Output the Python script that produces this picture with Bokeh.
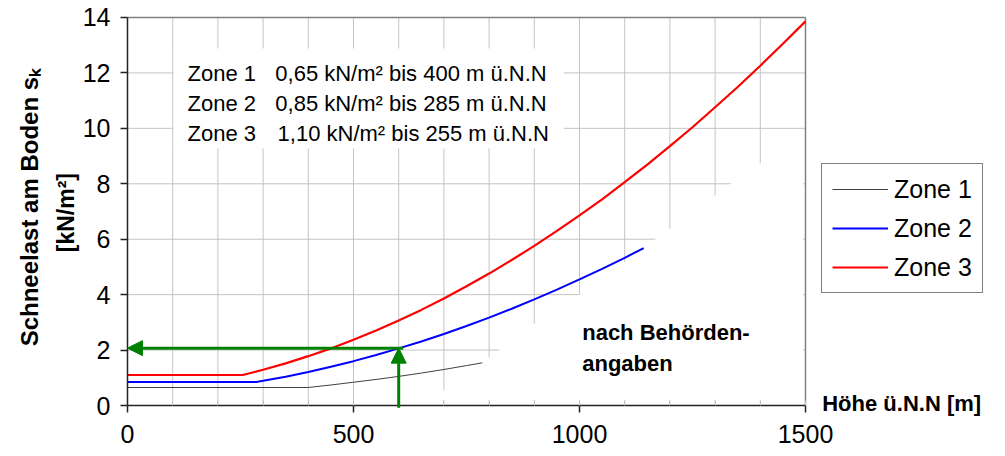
import math
from bokeh.plotting import figure
from bokeh.models import (Range1d, FixedTicker, Label, Legend, LegendItem,
                          Arrow, NormalHead)
from bokeh.embed import file_html
from bokeh.resources import INLINE

# ---- data ----
zone1_x = [0, 400, 450, 500, 550, 600, 650, 700, 750, 785]
zone1_y = [0.65, 0.65, 0.74, 0.84, 0.94, 1.05, 1.17, 1.30, 1.44, 1.54]

zone2_x = [0, 285, 300, 350, 400, 450, 500, 550, 600, 650, 700, 750, 800,
           850, 900, 950, 1000, 1050, 1100, 1142]
zone2_y = [0.85, 0.85, 0.89, 1.04, 1.21, 1.40, 1.60, 1.82, 2.06, 2.31, 2.58,
           2.87, 3.17, 3.49, 3.83, 4.18, 4.55, 4.93, 5.33, 5.68]

zone3_x = [0, 255, 300, 350, 400, 450, 500, 550, 600, 650, 700, 750, 800,
           850, 900, 950, 1000, 1050, 1100, 1150, 1200, 1250, 1300, 1350,
           1400, 1450, 1500]
zone3_y = [1.10, 1.10, 1.29, 1.52, 1.78, 2.06, 2.37, 2.71, 3.07, 3.45, 3.86,
           4.30, 4.76, 5.25, 5.76, 6.30, 6.86, 7.44, 8.06, 8.69, 9.36, 10.04,
           10.76, 11.49, 12.26, 13.05, 13.86]

series_names = ["Zone 1", "Zone 2", "Zone 3"]
x_ticks = [0, 500, 1000, 1500]
y_ticks = [0, 2, 4, 6, 8, 10, 12, 14]
x_grid = list(range(0, 1501, 100))

zone_labels = ["Zone 1", "Zone 2", "Zone 3"]
zone_texts = ["0,65 kN/m\u00b2 bis 400 m\u00a0\u00fc.N.N",
              "0,85 kN/m\u00b2 bis 285 m\u00a0\u00fc.N.N",
              "1,10 kN/m\u00b2 bis 255 m\u00a0\u00fc.N.N"]

# example reading (green arrows): 600 m -> 2.07 kN/m2
example_x = 600
example_y = 2.07

# white masking shapes of the original drawing
mask_xs = [640, 700, 823, 900, 1000, 1168, 1300, 1334, 1400, 1495, 1495]
mask_ys = [0.18, 0.55, 2.0, 2.96, 4.0, 6.0, 7.58, 8.0, 8.73, 9.85, 0.18]
textbox = (102, 965, 9.27, 12.88)

FONT = "Liberation Sans"
XMAX, YMAX = 1500, 14

# the frame covers the whole canvas; axes are pinned at 0
p = figure(width=1005, height=456,
           x_range=Range1d(-280.97, 1942.48),
           y_range=Range1d(-1.840, 14.613),
           output_backend="svg", toolbar_location=None,
           min_border_left=0, min_border_right=0,
           min_border_top=0, min_border_bottom=0)
p.background_fill_color = "white"
p.border_fill_color = "white"
p.outline_line_color = None
p.xgrid.visible = False
p.ygrid.visible = False

# grid
gc = "#c4c4c4"
p.segment(x0=x_grid, y0=[0] * len(x_grid), x1=x_grid,
          y1=[YMAX] * len(x_grid), line_color=gc, line_width=1)
p.segment(x0=[0] * len(y_ticks), y0=y_ticks, x1=[XMAX] * len(y_ticks),
          y1=y_ticks, line_color=gc, line_width=1)

# white masks over grid
p.patch(mask_xs, mask_ys, fill_color="white", line_color=None)
p.quad(left=[textbox[0]], right=[textbox[1]], bottom=[textbox[2]],
       top=[textbox[3]], fill_color="white", line_color=None)

# plot-area border (top and right)
p.segment(x0=[0, XMAX], y0=[YMAX, 0], x1=[XMAX, XMAX], y1=[YMAX, YMAX],
          line_color="#808080", line_width=1.5)

# axes
for ax in (p.xaxis[0], p.yaxis[0]):
    ax.fixed_location = 0
    ax.axis_line_color = "#222222"
    ax.axis_line_width = 1.5
    ax.major_tick_line_color = "#222222"
    ax.major_tick_line_width = 1.5
    ax.major_tick_in = 0
    ax.major_tick_out = 7
    ax.major_label_text_font = FONT
    ax.major_label_text_font_size = "25px"
    ax.major_label_text_color = "black"

p.xaxis.bounds = (0, XMAX)
p.yaxis.bounds = (0, YMAX)
p.xaxis.ticker = FixedTicker(ticks=x_ticks, minor_ticks=x_grid)
p.xaxis.minor_tick_in = 5
p.xaxis.minor_tick_out = 0
p.xaxis.minor_tick_line_color = "#c0c0c0"
p.xaxis.major_label_standoff = 12
p.yaxis.ticker = FixedTicker(ticks=y_ticks)
p.yaxis.minor_tick_line_color = None
p.yaxis.major_label_standoff = 10

# series
r1 = p.line(zone1_x, zone1_y, line_color="#404040", line_width=1)
r2 = p.line(zone2_x, zone2_y, line_color="#0000ff", line_width=2)
r3 = p.line(zone3_x, zone3_y, line_color="#ff0000", line_width=2.2)

# green arrows
green = "#008000"
p.add_layout(Arrow(x_start=example_x + 10, y_start=example_y, x_end=0,
                   y_end=example_y, line_color=green, line_width=3,
                   end=NormalHead(size=15, fill_color=green,
                                  line_color=green)))
p.add_layout(Arrow(x_start=example_x, y_start=-0.08, x_end=example_x,
                   y_end=example_y, line_color=green, line_width=3,
                   end=NormalHead(size=15, fill_color=green,
                                  line_color=green)))

# legend
legend = Legend(items=[LegendItem(label=n, renderers=[r])
                       for n, r in zip(series_names, [r1, r2, r3])],
                location=(821, 163))
legend.margin = 0
legend.padding = 10
legend.spacing = 9
legend.label_height = 30
legend.glyph_height = 30
legend.glyph_width = 56
legend.label_standoff = 6
legend.label_text_font = FONT
legend.label_text_font_size = "25px"
legend.label_text_color = "black"
legend.border_line_color = "black"
legend.border_line_width = 1
legend.background_fill_color = "white"
legend.background_fill_alpha = 1
p.add_layout(legend)

# annotation text block
rows_y = [11.98, 10.90, 9.815]
val_x = [327, 327, 332]
for lab, txt, yy, vx in zip(zone_labels, zone_texts, rows_y, val_x):
    p.add_layout(Label(x=133, y=yy, text=lab, text_font=FONT,
                       text_font_size="22px", text_baseline="alphabetic",
                       text_color="black"))
    p.add_layout(Label(x=vx, y=yy, text=txt, text_font=FONT,
                       text_font_size="22px", text_baseline="alphabetic",
                       text_color="black"))

# "nach Behörden-angaben"
p.add_layout(Label(x=1006, y=2.63, text="nach Beh\u00f6rden-", text_font=FONT,
                   text_font_size="22px", text_font_style="bold",
                   text_baseline="alphabetic", text_color="black"))
p.add_layout(Label(x=1006, y=1.52, text="angaben", text_font=FONT,
                   text_font_size="22px", text_font_style="bold",
                   text_baseline="alphabetic", text_color="black"))

# axis titles
p.add_layout(Label(x=1537, y=0.07, text="H\u00f6he \u00fc.N.N [m]",
                   text_font=FONT, text_font_size="22px",
                   text_font_style="bold", text_baseline="alphabetic",
                   text_color="black"))
p.add_layout(Label(x=-217, y=7.14, text="Schneelast am Boden s\u2096",
                   text_font=FONT, text_font_size="24px",
                   text_font_style="bold", angle=math.pi / 2,
                   text_align="center", text_baseline="middle",
                   text_color="black"))
p.add_layout(Label(x=-137, y=6.96, text="[kN/m\u00b2]",
                   text_font=FONT, text_font_size="23px",
                   text_font_style="bold", angle=math.pi / 2,
                   text_align="center", text_baseline="middle",
                   text_color="black"))

open("out.html", "w").write(file_html(p, INLINE))
